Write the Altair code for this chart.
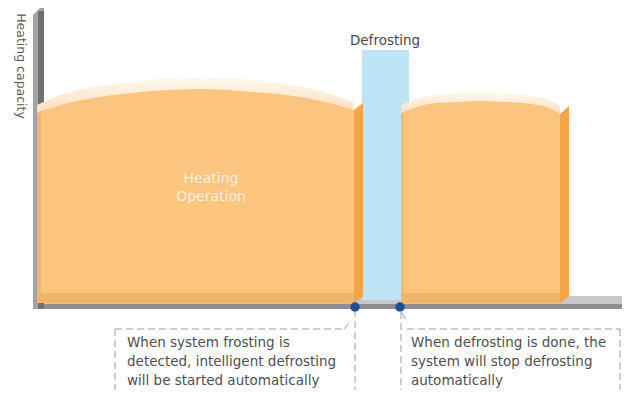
import altair as alt
import pandas as pd

# ---- chart coordinates (schematic units: time along x, capacity-level along y, top-down) ----
X_DOMAIN = [8, 622]
Y_DOMAIN = [8, 390]

# heating block 1 (front face top curve and top-face curve)
b1_x = [37, 60, 99, 140, 168, 203, 255, 307, 330, 354]
b1_top = [113, 105, 97, 92, 90, 89, 92, 98, 103, 110]
b1_pale = [105, 95, 86, 81, 78, 77, 80, 88, 94, 103]
b1_base = 303

# heating block 2
b2_x = [401, 428, 455, 480, 507, 532, 550, 560]
b2_top = [113, 104, 102, 101, 102, 104, 108, 114]
b2_pale = [105, 96, 93, 92, 93, 96, 100, 106]
b2_base = 303

# side faces (x, top, bottom)
side1_x = [354, 363]
side1_top = [110, 103]
side1_bot = [303, 297]
side2_x = [560, 569]
side2_top = [114, 106]
side2_bot = [303, 297]

# defrost period
defrost_start, defrost_end, defrost_level = 362, 409, 50

# axes bars
yaxis_x = [33, 44]
yaxis_top = [15, 4]
yaxis_bottom = 309

# event markers
event_x = [355, 400]
event_y = [307, 307]

# texts
box1_lines = ["When system frosting is", "detected, intelligent defrosting", "will be started automatically"]
box2_lines = ["When defrosting is done, the", "system will stop defrosting", "automatically"]
line_y = [343, 362, 380.5]
heating_lines = ["Heating", "Operation"]
heating_y = [179, 197]

# dashed callout segments (x, y, x2, y2)
seg_x = [115, 115, 344, 355, 401, 402, 407, 620]
seg_y = [329, 329, 329, 310, 312, 313, 329, 329]
seg_x2 = [115, 344, 350, 355, 401, 407, 620, 620]
seg_y2 = [398, 329, 322, 398, 398, 322, 329, 398]

XS = alt.Scale(domain=X_DOMAIN)
YS = alt.Scale(domain=Y_DOMAIN, reverse=True)


def X(f):
    return alt.X(f, type="quantitative", scale=XS, axis=None)


def Y(f):
    return alt.Y(f, type="quantitative", scale=YS, axis=None, stack=False)


def rect(x, x2, y, y2, color):
    df = pd.DataFrame({"x": [x], "x2": [x2], "y": [y], "y2": [y2]})
    return alt.Chart(df).mark_rect(color=color).encode(
        x=X("x"), x2="x2", y=Y("y"), y2="y2")


def area(xv, top, bot, color, interp="monotone"):
    if not isinstance(bot, list):
        bot = [bot] * len(xv)
    df = pd.DataFrame({"x": xv, "t": top, "b": bot})
    return alt.Chart(df).mark_area(color=color, interpolate=interp).encode(
        x=X("x"), y=Y("t"), y2="b")


pale_grad = alt.Gradient(
    gradient="linear",
    stops=[alt.GradientStop(color="#fff8ef", offset=0),
           alt.GradientStop(color="#fadfbd", offset=1)],
    x1=0, x2=0, y1=0, y2=1)

layers = []
# base
layers.append(rect(33, 627, 296, 305, "#c8c8ca"))
layers.append(rect(33, 622, 304, 309, "#8e8e92"))
# y axis bar
layers.append(area(yaxis_x, yaxis_top, yaxis_bottom, "#a3a3a6", "linear"))
layers.append(rect(38, 44, 11, 309, "#707073"))
# defrost bar
layers.append(rect(defrost_start, defrost_end, defrost_level, 300, "#bde5f6"))

# block 1
layers.append(area(b1_x, b1_pale, b1_top, pale_grad))
layers.append(area(b1_x, b1_top, b1_base, "#fbc580"))
layers.append(rect(37, 41, 114, 303, "#f1b56c"))
layers.append(rect(37, 354, 293, 303, "#f2b468"))
layers.append(area(side1_x, side1_top, side1_bot, "#f6a546", "linear"))

# block 2
layers.append(area(b2_x, b2_pale, b2_top, pale_grad))
layers.append(area(b2_x, b2_top, b2_base, "#fbc580"))
layers.append(rect(401, 404, 114, 303, "#f4b86f"))
layers.append(rect(401, 560, 293, 303, "#f2b468"))
layers.append(area(side2_x, side2_top, side2_bot, "#f6a546", "linear"))

FONT = "DejaVu Sans"

# texts
heat_df = pd.DataFrame({"x": [211, 211], "y": heating_y, "t": heating_lines})
layers.append(alt.Chart(heat_df).mark_text(font=FONT, fontSize=14, color="#fdf1df",
                                           align="center", baseline="middle").encode(
    x=X("x"), y=Y("y"), text="t:N"))

def_df = pd.DataFrame({"x": [385], "y": [41], "t": ["Defrosting"]})
layers.append(alt.Chart(def_df).mark_text(font=FONT, fontSize=13.5, color="#4a4a4a",
                                          align="center", baseline="middle").encode(
    x=X("x"), y=Y("y"), text="t:N"))

ylab_df = pd.DataFrame({"x": [21], "y": [66], "t": ["Heating capacity"]})
layers.append(alt.Chart(ylab_df).mark_text(font=FONT, fontSize=12.5, color="#5a5a5a", angle=90,
                                           align="center", baseline="middle").encode(
    x=X("x"), y=Y("y"), text="t:N"))

box_df = pd.DataFrame({
    "x": [127] * 3 + [411] * 3,
    "y": line_y + line_y,
    "t": box1_lines + box2_lines,
})
layers.append(alt.Chart(box_df).mark_text(font=FONT, fontSize=13.5, color="#505050",
                                          align="left", baseline="middle").encode(
    x=X("x"), y=Y("y"), text="t:N"))

# dashed callouts
seg_df = pd.DataFrame({"x": seg_x, "y": seg_y, "x2": seg_x2, "y2": seg_y2})
layers.append(alt.Chart(seg_df).mark_rule(color="#9c9c9c", strokeWidth=1, strokeDash=[7, 4]).encode(
    x=X("x"), y=Y("y"), x2="x2", y2="y2"))

# event dots
dot_df = pd.DataFrame({"x": event_x, "y": event_y})
layers.append(alt.Chart(dot_df).mark_point(filled=True, color="#1d4f9e", size=90, opacity=1).encode(
    x=X("x"), y=Y("y")))

chart = alt.layer(*layers).properties(
    width=614, height=382, padding=0, autosize=alt.AutoSizeParams(type="none"),
    background="white",
).configure_view(stroke=None)

chart.save("out.html", embed_options={"renderer": "svg", "actions": False})
